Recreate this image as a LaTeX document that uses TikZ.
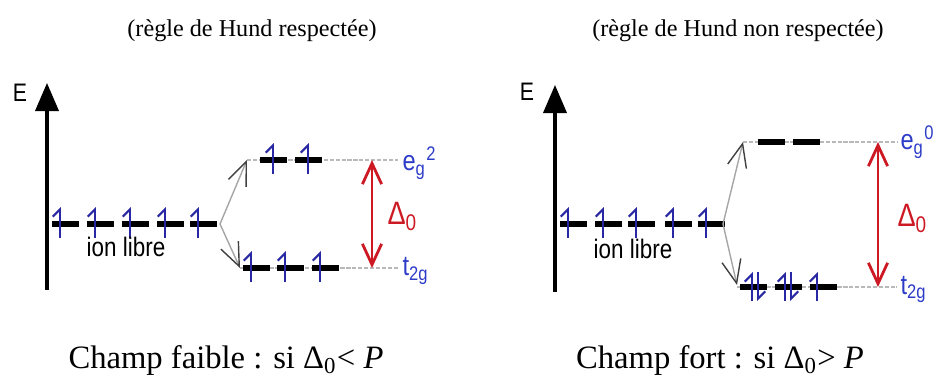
\documentclass[tikz,border=0pt]{standalone}
\usepackage{fontspec}
\setmainfont{Liberation Serif}
\setsansfont{Liberation Sans}
\newfontfamily\labelfont[FakeStretch=0.84]{Liberation Sans}
\usetikzlibrary{arrows.meta,positioning}
\definecolor{spinblue}{RGB}{40,40,165}
\definecolor{labelblue}{RGB}{45,60,200}
\definecolor{gapred}{RGB}{205,25,35}

\begin{document}
\begin{tikzpicture}[
    x=0.0125cm, y=-0.0125cm,
    orbital/.style={line width=1.9pt, black},
    spin/.style={spinblue, line width=0.7pt, -{Straight Barb[left, length=0.9mm, width=1.8mm]}},
    guide/.style={gray!55, line width=0.6pt, dash pattern=on 1.5pt off 0.6pt},
    split/.style={gray!70, line width=0.5pt, -{Straight Barb[length=2.9mm, width=2.4mm, black!75]}},
    gap/.style={gapred, line width=1pt, {Straight Barb[length=2.6mm, width=2.4mm]}-{Straight Barb[length=2.6mm, width=2.4mm]}},
    axis/.style={line width=1.1pt, -{Triangle[length=3.5mm, width=2.9mm]}},
    title/.style={font=\fontsize{8.6}{10}\selectfont, inner sep=0pt, anchor=base},
    caption/.style={font=\fontsize{11.6}{14}\selectfont, inner sep=0pt, anchor=base},
    lab/.style={font=\labelfont\fontsize{10}{11}\selectfont, inner sep=0pt, anchor=base west, text=labelblue}
  ]
    \useasboundingbox (0,0) rectangle (933,383);

    % titles and captions
    \node[title] (hundL) at (252,37) {(règle de Hund respectée)};
    \node[title] (hundR) at (738,37) {(règle de Hund non respectée)};
    \node[caption] (faible) at (226,368) {Champ faible : si Δ\textsubscript{0}< \textit{P}};
    \node[caption] (fort) at (720,368) {Champ fort : si Δ\textsubscript{0}> \textit{P}};

    % weak field
    \coordinate (axisLbot) at (47,290);
    \coordinate (axisLtop) at (47,83);
    \draw[axis] (axisLbot) -- (axisLtop);
    \node[font=\labelfont\fontsize{9}{9}\selectfont, inner sep=0pt] (enL) at (20,93) {E};
    \coordinate (freeL) at (220,224);
    \coordinate (egL) at (247,160);
    \coordinate (tgL) at (240,268);
    \node[lab] (egLabL) at (402,171) {e\textsubscript{g}\textsuperscript{2}};
    \node[lab] (tgLabL) at (402,276) {t\textsubscript{2g}};
    \draw[guide] (egL) -- (398,160);
    \draw[guide] (tgL) -- (398,268);
    \foreach \x in {52,87,122,157,190} {
      \draw[orbital] (\x,224) -- ++(27,0);
      \draw[spin] (\x+8,238) -- (\x+8,207);
    }
    \node[font=\labelfont\fontsize{9.5}{10}\selectfont, inner sep=0pt, anchor=north] (libreL) at (126,237) {ion libre};
    \foreach \x in {260,295} {
      \draw[orbital] (\x,160) -- ++(27,0);
      \draw[spin] (\x+13,174) -- (\x+13,143);
    }
    \foreach \x in {243,277,312} {
      \draw[orbital] (\x,268) -- ++(27,0);
      \draw[spin] (\x+8,282) -- (\x+8,251);
    }
    \draw[split] (freeL) -- (egL);
    \draw[split] (freeL) -- (tgL);
    \draw[gap] (372,160) -- (372,268);
    \node[lab, text=gapred, font=\labelfont\fontsize{11.5}{12}\selectfont] (deltaL) at (387,225) {Δ\textsubscript{0}};

    % strong field
    \coordinate (axisRbot) at (555,292);
    \coordinate (axisRtop) at (555,85);
    \draw[axis] (axisRbot) -- (axisRtop);
    \node[font=\labelfont\fontsize{9}{9}\selectfont, inner sep=0pt] (enR) at (527,92) {E};
    \coordinate (freeR) at (723,224);
    \coordinate (egR) at (743,142);
    \coordinate (tgR) at (737,285);
    \node[lab] (egLabR) at (900,150) {e\textsubscript{g}\textsuperscript{0}};
    \node[lab] (tgLabR) at (900,294) {t\textsubscript{2g}};
    \draw[guide] (egR) -- (897,142);
    \draw[guide] (tgR |- 0,287) -- (897,287);
    \foreach \x in {560,595,628,665,698} {
      \draw[orbital] (\x,224) -- ++(27,0);
      \draw[spin] (\x+8,238) -- (\x+8,207);
    }
    \node[font=\labelfont\fontsize{9.5}{10}\selectfont, inner sep=0pt, anchor=north] (libreR) at (633,239) {ion libre};
    \foreach \x in {758,793}
      \draw[orbital] (\x,142) -- ++(27,0);
    \foreach \x in {740,775,810}
      \draw[orbital] (\x,287) -- ++(27,0);
    \foreach \x in {752,785} {
      \draw[spin] (\x,301) -- (\x,272);
      \draw[spin] (\x+6,272) -- (\x+6,301);
    }
    \draw[spin] (817,301) -- (817,272);
    \draw[split] (freeR) -- (egR);
    \draw[split] (freeR) -- (tgR);
    \draw[gap] (878,142) -- (878,287);
    \node[lab, text=gapred, font=\labelfont\fontsize{11.5}{12}\selectfont] (deltaR) at (897,227) {Δ\textsubscript{0}};
  \end{tikzpicture}
\end{document}
